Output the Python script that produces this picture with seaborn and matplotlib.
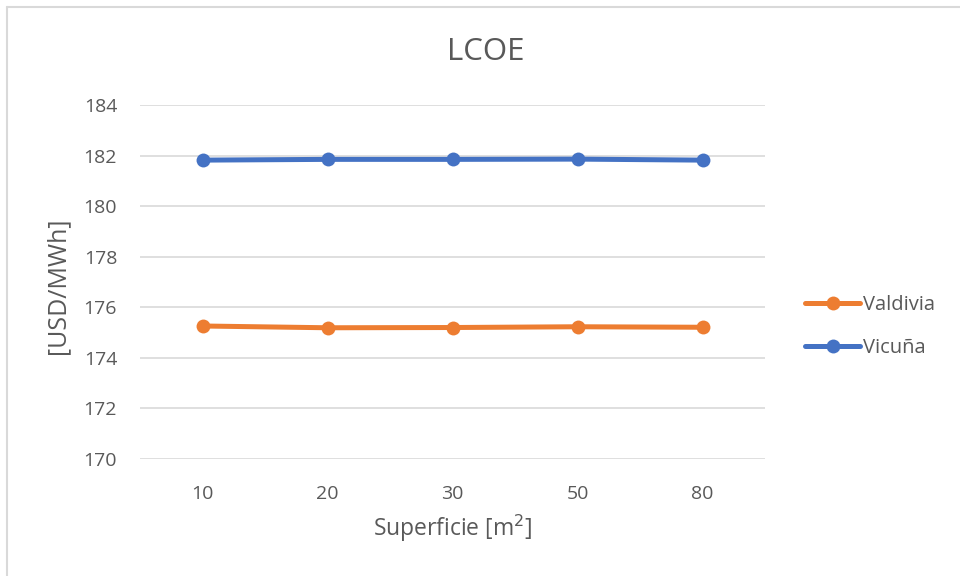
import matplotlib
matplotlib.use("Agg")
import matplotlib.pyplot as plt
from matplotlib.lines import Line2D
import seaborn as sns
import pandas as pd

categories = ["10", "20", "30", "50", "80"]
valdivia = [175.26, 175.19, 175.20, 175.23, 175.21]
vicuna = [181.82, 181.85, 181.85, 181.86, 181.82]
yticks = [170, 172, 174, 176, 178, 180, 182, 184]

df = pd.DataFrame({
    "Superficie": categories * 2,
    "LCOE": valdivia + vicuna,
    "Serie": ["Valdivia"] * 5 + ["Vicuña"] * 5,
})

sns.set_theme(style="white")
plt.rcParams['font.family'] = ['Open Sans', 'DejaVu Sans']

W, H = 960, 576
fig = plt.figure(figsize=(9.6, 5.76), dpi=100)
ax = fig.add_axes([140 / W, (H - 459) / H, 625 / W, 354 / H])

palette = {"Valdivia": "#ed7d31", "Vicuña": "#4472c4"}
sns.lineplot(data=df, x="Superficie", y="LCOE", hue="Serie", palette=palette,
             marker="o", markersize=10, markeredgewidth=0, linewidth=3.6,
             sort=False, ax=ax)

ax.set_ylim(170, 184)
ax.set_xlim(-0.5, 4.5)
ax.set_yticks(yticks)
ax.set_yticklabels([str(v) for v in yticks])
ax.grid(axis="y", color="#d9d9d9", linewidth=1.2)
ax.set_axisbelow(True)
for s in ax.spines.values():
    s.set_visible(False)
ax.tick_params(axis="both", length=0, labelsize=14, colors="#595959")
ax.tick_params(axis="y", pad=16.5)
ax.tick_params(axis="x", pad=19)

ax.set_xlabel("Superficie [m$^{2}$]", fontsize=16.5, color="#595959", va="center")
ax.xaxis.set_label_coords(0.5, -0.195)
ax.set_ylabel("[USD/MWh]", fontsize=18, color="#595959", va="center")
ax.yaxis.set_label_coords(-0.131, 0.49)
fig.text(486 / W, 1 - 52 / H, "LCOE", fontsize=22.5, color="#595959",
         ha="center", va="center")

handles, labels = ax.get_legend_handles_labels()
leg = ax.legend(handles, labels, loc="center left", bbox_to_anchor=(1.064, 0.374),
                frameon=False, fontsize=14.5, labelcolor="#595959",
                handlelength=2.75, handletextpad=0.15, labelspacing=1.15,
                borderpad=0, borderaxespad=0)

fig.lines.append(Line2D([6.5 / W, 1.0], [1 - 6.5 / H, 1 - 6.5 / H], transform=fig.transFigure,
                        color="#d9d9d9", linewidth=1.5))
fig.lines.append(Line2D([6.5 / W, 6.5 / W], [0.0, 1 - 6.5 / H], transform=fig.transFigure,
                        color="#d9d9d9", linewidth=1.5))

fig.savefig("out.png", dpi=100)
